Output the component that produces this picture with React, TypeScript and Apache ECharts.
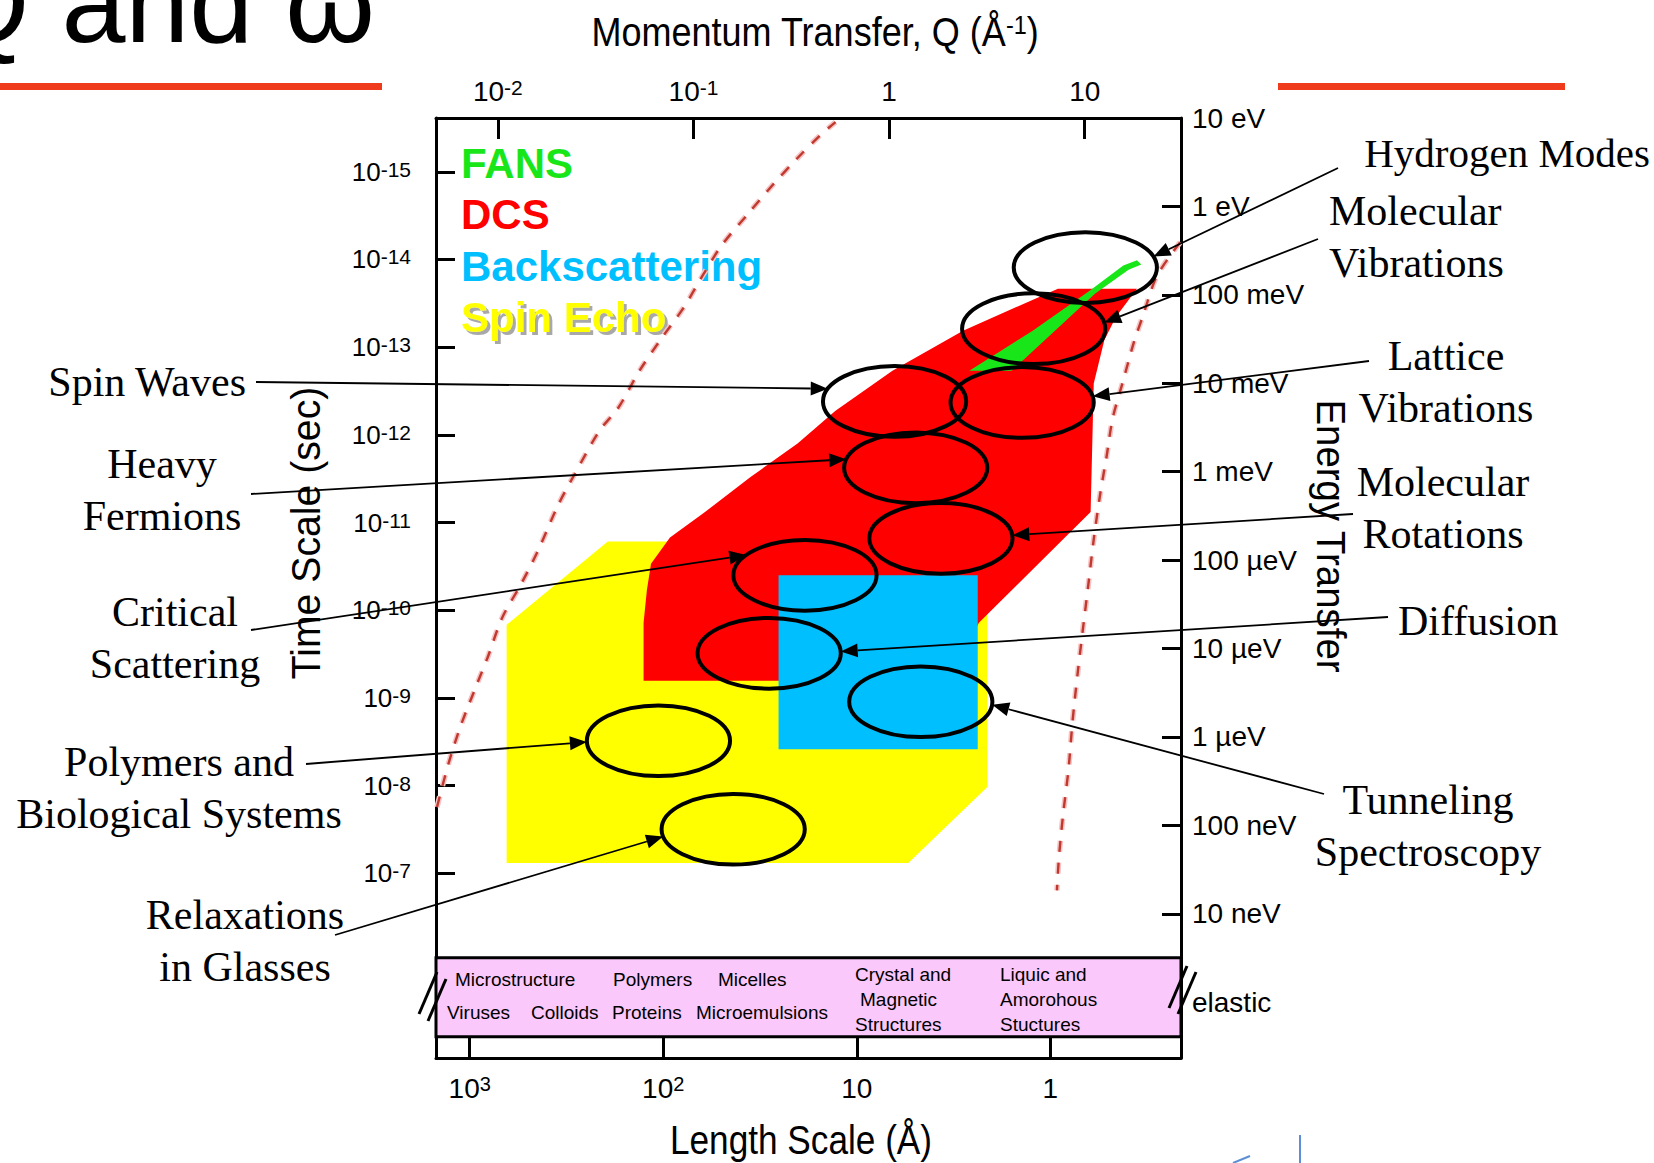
import React, { useEffect, useRef } from "react";
import * as echarts from "echarts";

// ---------- axis calibrations (all in log10 units) ----------
const Q_LOG_RANGE = [-2.316, 1.492]; // Momentum transfer Q (Å^-1), top axis
const E_LOG_RANGE = [-9.631, 1]; // Energy transfer (eV), right axis
const T_LOG_RANGE = [-15.614, -4.892]; // Time scale (s), left axis (top -> bottom)
const L_LOG_RANGE = [-0.675, 3.174]; // Length scale (Å), bottom axis (right -> left)

const Q_TICKS = [-2, -1, 0, 1];
const L_TICKS = [3, 2, 1, 0];
const T_TICKS = [-15, -14, -13, -12, -11, -10, -9, -8, -7];
const E_TICKS = [1, 0, -1, -2, -3, -4, -5, -6, -7, -8];
const E_TICK_LABELS = ["10 eV", "1 eV", "100 meV", "10 meV", "1 meV", "100 µeV", "10 µeV", "1 µeV", "100 neV", "10 neV"];
const ELASTIC_LEVEL = -9;
const ELASTIC_LABEL = "elastic";

// ---------- instrument regions [log10 Q, log10 E] ----------
const SPIN_ECHO_REGION = [[-1.955, -4.732], [-1.438, -3.79], [0.308, -3.79], [0.502, -4.35], [0.502, -6.567], [0.098, -7.426], [-1.955, -7.426]];
const DCS_REGION = [[-1.255, -5.364], [-1.255, -4.708], [-1.238, -4.338], [-1.217, -4.041], [-1.12, -3.743], [-0.948, -3.468], [-0.71, -3.063], [-0.468, -2.682], [-0.274, -2.312], [0.017, -1.859], [0.378, -1.406], [0.863, -0.93], [1.267, -0.93], [1.159, -1.251], [1.1, -1.514], [1.046, -2.002], [1.03, -3.456], [0.459, -4.708], [0.308, -5.364]];
const BACKSCATTERING_REGION = [[-0.565, -4.172], [0.453, -4.172], [0.453, -6.138], [-0.565, -6.138]];
const FANS_REGION = [[0.41, -1.859], [0.734, -1.406], [1.025, -0.954], [1.197, -0.667], [1.267, -0.608], [1.289, -0.656], [1.224, -0.715], [1.052, -0.989], [0.626, -1.859]];

// structure band (log10 E top / bottom)
const STRUCTURE_BAND = [-8.498, -9.392];

// ---------- kinematic limit curves [log10 Q, log10 E] ----------
const KINEMATIC_LOW = [[-2.311, -6.794], [-2.251, -6.293], [-2.192, -5.888], [-2.106, -5.399], [-2.052, -5.101], [-1.977, -4.648], [-1.88, -4.267], [-1.793, -3.886], [-1.696, -3.397], [-1.616, -3.063], [-1.481, -2.539], [-1.384, -2.277], [-1.276, -1.859], [-1.163, -1.49], [-1.05, -1.144], [-0.948, -0.763], [-0.856, -0.441], [-0.721, -0.083], [-0.592, 0.25], [-0.473, 0.536], [-0.355, 0.799], [-0.274, 0.954]];
const KINEMATIC_HIGH = [[1.488, -0.405], [1.369, -0.787], [1.299, -1.228], [1.251, -1.538], [1.197, -1.967], [1.143, -2.396], [1.111, -2.837], [1.078, -3.266], [1.046, -3.766], [1.019, -4.267], [0.992, -4.756], [0.965, -5.256], [0.938, -5.816], [0.917, -6.365], [0.89, -6.865], [0.868, -7.366], [0.858, -7.735]];

// ---------- phenomena (ellipse centres, [log10 Q, log10 E]) ----------
const PHENOMENA = [
  ["Hydrogen Modes"],
  ["Molecular", "Vibrations"],
  ["Lattice", "Vibrations"],
  ["Spin Waves"],
  ["Heavy", "Fermions"],
  ["Molecular", "Rotations"],
  ["Critical", "Scattering"],
  ["Diffusion"],
  ["Tunneling", "Spectroscopy"],
  ["Polymers and", "Biological Systems"],
  ["Relaxations", "in Glasses"],
];
const PHENOMENA_CENTERS = [[1.003, -0.691], [0.739, -1.383], [0.68, -2.217], [0.028, -2.205], [0.136, -2.956], [0.265, -3.754], [-0.43, -4.172], [-0.613, -5.054], [0.162, -5.602], [-1.179, -6.043], [-0.797, -7.044]];
const ELLIPSE_HALF_AXES = [0.366, 0.4]; // decades of Q, decades of E

const LEGEND_NAMES = ["FANS", "DCS", "Backscattering", "Spin Echo"];

const BAND_LABELS = ["Microstructure", "Polymers", "Micelles", "Viruses", "Colloids", "Proteins", "Microemulsions", "Crystal and", "Magnetic", "Structures", "Liquic and", "Amorohous", "Stuctures"];

// ---------- layout & style (pixels) ----------
const W = 1654;
const H = 1163;
const GRID = { left: 436, top: 118, width: 745, height: 940 };
const SANS = "'Liberation Sans', Arial, Helvetica, sans-serif";
const SERIF = "'Liberation Serif', 'Times New Roman', serif";
const C_FANS = "#19e619";
const C_DCS = "#ff0000";
const C_BS = "#00bfff";
const C_SE = "#ffff00";
const C_PINK = "#fac8fa";
const C_KIN = "#c0392f";
const C_KIN_HALO = "#f6c4c4";
const C_RULE = "#ef3a1c";
const C_LOGO = "#5d8fd6";
const ANN_FONT = 42;
const ANN_LINE = 52;
const KIN_DASH = [11, 11];

const PHENOMENA_LAYOUT = [
  { anchor: [1338, 168], text: [1650, 153], align: "right", tip: 18, size: 41 },
  { anchor: [1318, 239], text: [1329, 211], align: "left", tip: 10 },
  { anchor: [1369, 361], text: [1446, 356], align: "center", tip: 10 },
  { anchor: [256, 382], text: [246, 382], align: "right", tip: 159 },
  { anchor: [251, 494], text: [162, 464], align: "center", tip: 166 },
  { anchor: [1353, 514], text: [1443, 482], align: "center", tip: 5 },
  { anchor: [251, 630], text: [175, 612], align: "center", tip: 145 },
  { anchor: [1388, 617], text: [1398, 621], align: "left", tip: 3 },
  { anchor: [1324, 794], text: [1428, 800], align: "center", tip: -5 },
  { anchor: [306, 764], text: [179, 762], align: "center", tip: 182 },
  { anchor: [335, 935], text: [245, 915], align: "center", tip: 192 },
];

const BAND_LAYOUT = [
  [455, 979], [613, 979], [718, 979],
  [447, 1012], [531, 1012], [612, 1012], [696, 1012],
  [855, 974], [860, 999], [855, 1024],
  [1000, 974], [1000, 999], [1000, 1024],
];

function txt(x: number, y: number, text: string, o: any = {}) {
  return {
    type: "text",
    x,
    y,
    rotation: o.rotation || 0,
    scaleX: o.scaleX || 1,
    z: o.z || 50,
    silent: true,
    style: {
      text,
      fill: o.fill || "#000",
      fontSize: o.fontSize || 20,
      fontFamily: o.fontFamily || SANS,
      fontWeight: o.fontWeight || "normal",
      align: o.align || "center",
      textAlign: o.align || "center",
      verticalAlign: "middle",
      textVerticalAlign: "middle",
      rich: o.rich,
    },
  };
}

// rich styles for a raised superscript: base digits sit at the bottom of the line,
// the exponent at the top, padded so that it rises above the digits
function supRich(base: number, sup: number, raise: number) {
  return {
    b: { fontSize: base, lineHeight: base, verticalAlign: "bottom", fontFamily: SANS, color: "#000" },
    sup: { fontSize: sup, lineHeight: sup, padding: [0, 0, raise, 0], verticalAlign: "top", fontFamily: SANS, color: "#000" },
  };
}

const powLabel = (v: number) => (v === 0 ? "1" : v === 1 ? "10" : `{b|10}{sup|${v}}`);

function regionSeries(name: string, pts: number[][], color: string, z: number) {
  return {
    type: "custom",
    name,
    coordinateSystem: "cartesian2d",
    xAxisIndex: 0,
    yAxisIndex: 0,
    data: pts,
    encode: { x: 0, y: 1 },
    z,
    silent: true,
    itemStyle: { color },
    renderItem: (params: any, api: any) => {
      if (params.dataIndex !== 0) return null;
      return {
        type: "polygon",
        shape: { points: pts.map((p) => api.coord(p)) },
        style: { fill: color, stroke: "none" },
      };
    },
  };
}

function axisBase(min: number, max: number) {
  return {
    type: "value",
    min,
    max,
    splitLine: { show: false },
    axisLine: { show: true, onZero: false, lineStyle: { color: "#000", width: 3 } },
  };
}

function buildOption() {
  const tickStyle = { color: "#000", width: 3 };

  return {
    animation: false,
    backgroundColor: "#fff",
    grid: GRID,
    legend: {
      orient: "vertical",
      left: 456,
      top: 142,
      padding: 0,
      icon: "none",
      itemWidth: 0,
      itemHeight: 0,
      itemGap: 9.5,
      selectedMode: false,
      textStyle: { fontFamily: SANS, fontWeight: "bold", fontSize: 42, lineHeight: 42 },
      data: [
        { name: LEGEND_NAMES[0], textStyle: { color: C_FANS } },
        { name: LEGEND_NAMES[1], textStyle: { color: C_DCS } },
        { name: LEGEND_NAMES[2], textStyle: { color: C_BS } },
        {
          name: LEGEND_NAMES[3],
          textStyle: { color: C_SE, textShadowColor: "#a8a8a8", textShadowOffsetX: 3, textShadowOffsetY: 3, textShadowBlur: 1 },
        },
      ],
    },
    xAxis: [
      {
        ...axisBase(Q_LOG_RANGE[0], Q_LOG_RANGE[1]),
        position: "top",
        axisTick: { show: true, inside: true, length: 21, lineStyle: tickStyle, customValues: Q_TICKS },
        axisLabel: {
          customValues: Q_TICKS,
          formatter: powLabel,
          margin: 13,
          fontFamily: SANS,
          fontSize: 28,
          color: "#000",
          rich: supRich(28, 21, 13),
        },
      },
      {
        ...axisBase(L_LOG_RANGE[0], L_LOG_RANGE[1]),
        position: "bottom",
        inverse: true,
        axisTick: { show: true, inside: true, length: 21, lineStyle: tickStyle, customValues: L_TICKS },
        axisLabel: {
          customValues: L_TICKS,
          formatter: powLabel,
          margin: 16,
          fontFamily: SANS,
          fontSize: 28,
          color: "#000",
          rich: supRich(28, 20, 13),
        },
      },
    ],
    yAxis: [
      {
        ...axisBase(E_LOG_RANGE[0], E_LOG_RANGE[1]),
        position: "right",
        axisTick: { show: true, inside: true, length: 19, lineStyle: tickStyle, customValues: E_TICKS },
        axisLabel: {
          customValues: [...E_TICKS, ELASTIC_LEVEL],
          formatter: (v: number) => (v === ELASTIC_LEVEL ? ELASTIC_LABEL : E_TICK_LABELS[E_TICKS.indexOf(v)]),
          margin: 11,
          fontFamily: SANS,
          fontSize: 28,
          color: "#000",
        },
      },
      {
        ...axisBase(T_LOG_RANGE[0], T_LOG_RANGE[1]),
        position: "left",
        inverse: true,
        axisTick: { show: true, inside: true, length: 19, lineStyle: tickStyle, customValues: T_TICKS },
        axisLabel: {
          customValues: T_TICKS,
          formatter: (v: number) => `{b|10}{sup|${v}}`,
          margin: 25,
          fontFamily: SANS,
          fontSize: 26,
          color: "#000",
          rich: supRich(26, 21, 13),
        },
      },
    ],
    graphic: {
      elements: [
        txt(-60, 2, "Q and ω", { fontSize: 115, align: "left" }),
        { type: "rect", shape: { x: 0, y: 83, width: 382, height: 7 }, style: { fill: C_RULE }, silent: true },
        { type: "rect", shape: { x: 1278, y: 83, width: 287, height: 7 }, style: { fill: C_RULE }, silent: true },
        txt(815, 32, "{b|Momentum Transfer, Q (Å}{sup|-1}{b|)}", {
          fontSize: 40,
          scaleX: 0.9,
          rich: supRich(40, 26, 14),
        }),
        txt(801, 1140, "Length Scale (Å)", { fontSize: 40, scaleX: 0.88 }),
        txt(306, 533, "Time Scale (sec)", { fontSize: 40, scaleX: 0.98, rotation: Math.PI / 2 }),
        txt(1331, 536, "Energy Transfer", { fontSize: 40, scaleX: 0.96, rotation: -Math.PI / 2 }),
        ...BAND_LABELS.map((t, i) => txt(BAND_LAYOUT[i][0], BAND_LAYOUT[i][1], t, { fontSize: 19, align: "left", z: 60 })),
        // axis break marks
        { type: "line", shape: { x1: 419, y1: 1014, x2: 437, y2: 972 }, style: { stroke: "#000", lineWidth: 3 }, z: 70 },
        { type: "line", shape: { x1: 428, y1: 1021, x2: 446, y2: 979 }, style: { stroke: "#000", lineWidth: 3 }, z: 70 },
        { type: "line", shape: { x1: 1169, y1: 1008, x2: 1187, y2: 966 }, style: { stroke: "#000", lineWidth: 3 }, z: 70 },
        { type: "line", shape: { x1: 1178, y1: 1014, x2: 1196, y2: 972 }, style: { stroke: "#000", lineWidth: 3 }, z: 70 },
        // partial logo at the bottom edge
        { type: "line", shape: { x1: 1300, y1: 1135, x2: 1300, y2: 1163 }, style: { stroke: C_LOGO, lineWidth: 2 }, z: 70 },
        { type: "line", shape: { x1: 1233, y1: 1163, x2: 1250, y2: 1156 }, style: { stroke: C_LOGO, lineWidth: 2 }, z: 70 },
      ],
    },
    series: [
      regionSeries(LEGEND_NAMES[3], SPIN_ECHO_REGION, C_SE, 1),
      regionSeries(LEGEND_NAMES[1], DCS_REGION, C_DCS, 2),
      regionSeries(LEGEND_NAMES[2], BACKSCATTERING_REGION, C_BS, 3),
      regionSeries(LEGEND_NAMES[0], FANS_REGION, C_FANS, 3),
      {
        type: "custom",
        name: "structures",
        coordinateSystem: "cartesian2d",
        data: [[Q_LOG_RANGE[0], STRUCTURE_BAND[0]]],
        z: 3,
        silent: true,
        renderItem: (params: any, api: any) => {
          const a = api.coord([Q_LOG_RANGE[0], STRUCTURE_BAND[0]]);
          const b = api.coord([Q_LOG_RANGE[1], STRUCTURE_BAND[1]]);
          return {
            type: "rect",
            shape: { x: a[0], y: a[1], width: b[0] - a[0], height: b[1] - a[1] },
            style: { fill: C_PINK, stroke: "#000", lineWidth: 3 },
          };
        },
      },
      ...[KINEMATIC_LOW, KINEMATIC_HIGH].flatMap((d, k) => [
        {
          type: "line",
          name: `limit-halo-${k}`,
          data: d,
          symbol: "none",
          smooth: 0.3,
          silent: true,
          z: 6,
          lineStyle: { color: C_KIN_HALO, width: 5.5, type: KIN_DASH },
        },
        {
          type: "line",
          name: `limit-${k}`,
          data: d,
          symbol: "none",
          smooth: 0.3,
          silent: true,
          z: 6,
          lineStyle: { color: C_KIN, width: 2.4, type: KIN_DASH },
        },
      ]),
      {
        type: "custom",
        name: "phenomena",
        coordinateSystem: "cartesian2d",
        data: PHENOMENA_CENTERS,
        encode: { x: 0, y: 1 },
        z: 8,
        silent: true,
        renderItem: (params: any, api: any) => {
          const i = params.dataIndex;
          const c = api.coord([api.value(0), api.value(1)]);
          const s = api.size([ELLIPSE_HALF_AXES[0], ELLIPSE_HALF_AXES[1]]);
          const lay: any = PHENOMENA_LAYOUT[i];
          const th = (lay.tip * Math.PI) / 180;
          const tip = [c[0] + s[0] * Math.cos(th), c[1] - s[1] * Math.sin(th)];
          const a = lay.anchor;
          const dx = tip[0] - a[0];
          const dy = tip[1] - a[1];
          const len = Math.hypot(dx, dy);
          const ux = dx / len;
          const uy = dy / len;
          const head = 17;
          const half = 7;
          const bx = tip[0] - ux * head;
          const by = tip[1] - uy * head;
          const children: any[] = [
            {
              type: "ellipse",
              shape: { cx: c[0], cy: c[1], rx: s[0], ry: s[1] },
              style: { fill: "none", stroke: "#000", lineWidth: 4 },
            },
            { type: "line", shape: { x1: a[0], y1: a[1], x2: bx, y2: by }, style: { stroke: "#000", lineWidth: 1.8 } },
            {
              type: "polygon",
              shape: { points: [[tip[0], tip[1]], [bx - uy * half, by + ux * half], [bx + uy * half, by - ux * half]] },
              style: { fill: "#000" },
            },
          ];
          PHENOMENA[i].forEach((t, k) => {
            children.push({
              type: "text",
              x: lay.text[0],
              y: lay.text[1] + k * ANN_LINE,
              style: {
                text: t,
                fill: "#000",
                fontSize: lay.size || ANN_FONT,
                fontFamily: SERIF,
                align: lay.align,
                textAlign: lay.align,
                verticalAlign: "middle",
                textVerticalAlign: "middle",
              },
            });
          });
          return { type: "group", children };
        },
      },
    ],
  };
}

export default function App() {
  const ref = useRef<HTMLDivElement>(null);
  useEffect(() => {
    const chart = echarts.init(ref.current as HTMLDivElement, null, { renderer: "svg" });
    chart.setOption(buildOption() as any);
    return () => chart.dispose();
  }, []);
  return (
    <div
      ref={ref}
      style={{ position: "fixed", left: 0, top: 0, width: W, height: H, background: "#fff" }}
    />
  );
}
